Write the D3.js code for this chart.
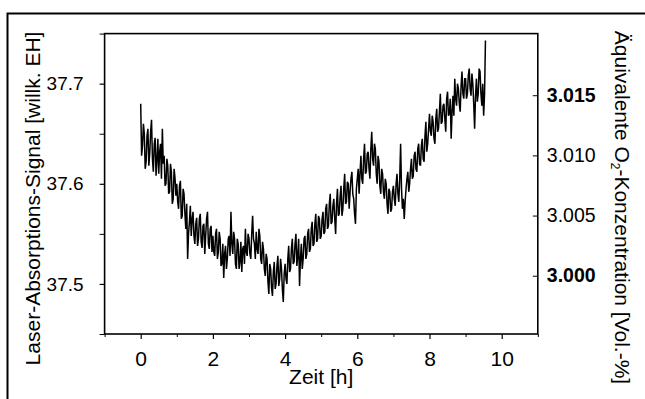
<!DOCTYPE html>
<html><head><meta charset="utf-8">
<script src="https://cdn.jsdelivr.net/npm/d3@7"></script>
<style>body{margin:0;background:#fff} svg{display:block;font-family:"Liberation Sans",Arial,sans-serif}</style>
</head><body>
<script>
// ---- data ----
const tStart = 0, tStep = 0.025;           // sample times in hours
const signal = [
 37.680,37.628,37.638,37.660,37.650,37.615,37.622,37.648,37.655,37.618,37.630,37.652,37.664,37.625,37.612,37.640,37.646,37.608,37.624,37.645,
 37.610,37.632,37.640,37.605,37.655,37.620,37.628,37.598,37.600,37.625,37.618,37.590,37.592,37.620,37.612,37.580,37.585,37.615,37.606,37.588,
 37.600,37.582,37.575,37.598,37.603,37.565,37.568,37.595,37.590,37.570,37.555,37.580,37.525,37.550,37.562,37.578,37.548,37.565,37.572,37.548,
 37.540,37.560,37.566,37.538,37.545,37.565,37.570,37.542,37.536,37.558,37.560,37.530,37.548,37.565,37.572,37.540,37.535,37.555,37.558,37.532,
 37.548,37.532,37.528,37.550,37.555,37.525,37.532,37.552,37.545,37.518,37.520,37.540,37.506,37.530,37.538,37.515,37.525,37.545,37.548,37.528,
 37.572,37.540,37.530,37.552,37.545,37.520,37.515,37.545,37.540,37.515,37.522,37.542,37.512,37.535,37.538,37.520,37.555,37.532,37.528,37.550,
 37.545,37.530,37.525,37.550,37.568,37.545,37.540,37.525,37.552,37.535,37.530,37.555,37.548,37.525,37.520,37.542,37.535,37.515,37.508,37.530,
 37.525,37.502,37.490,37.520,37.515,37.496,37.488,37.512,37.522,37.495,37.500,37.518,37.528,37.498,37.505,37.525,37.515,37.495,37.482,37.510,
 37.520,37.505,37.500,37.525,37.538,37.512,37.515,37.535,37.545,37.520,37.522,37.540,37.550,37.518,37.528,37.545,37.498,37.525,37.540,37.515,
 37.525,37.545,37.548,37.525,37.530,37.550,37.555,37.532,37.535,37.555,37.562,37.538,37.540,37.560,37.570,37.542,37.545,37.568,37.565,37.545,
 37.548,37.565,37.572,37.550,37.552,37.575,37.580,37.555,37.558,37.580,37.590,37.560,37.562,37.578,37.585,37.565,37.550,37.580,37.595,37.568,
 37.570,37.588,37.598,37.568,37.575,37.595,37.610,37.580,37.582,37.602,37.600,37.575,37.592,37.605,37.612,37.590,37.585,37.570,37.560,37.595,
 37.605,37.615,37.590,37.610,37.628,37.605,37.600,37.625,37.640,37.610,37.612,37.630,37.632,37.615,37.605,37.635,37.652,37.625,37.618,37.640,
 37.635,37.610,37.600,37.628,37.622,37.598,37.590,37.615,37.610,37.592,37.585,37.605,37.600,37.580,37.570,37.595,37.592,37.572,37.575,37.592,
 37.598,37.585,37.578,37.600,37.610,37.590,37.582,37.605,37.640,37.595,37.575,37.585,37.565,37.582,37.595,37.605,37.612,37.592,37.600,37.615,
 37.625,37.605,37.608,37.628,37.632,37.615,37.612,37.635,37.640,37.620,37.618,37.638,37.645,37.625,37.622,37.648,37.662,37.632,37.640,37.655,
 37.670,37.652,37.648,37.668,37.662,37.645,37.640,37.665,37.675,37.652,37.655,37.672,37.690,37.660,37.662,37.678,37.680,37.665,37.652,37.685,
 37.692,37.668,37.670,37.685,37.645,37.672,37.688,37.668,37.705,37.685,37.678,37.700,37.695,37.680,37.672,37.698,37.712,37.690,37.685,37.705,
 37.705,37.685,37.690,37.708,37.715,37.695,37.688,37.710,37.700,37.680,37.655,37.688,37.705,37.682,37.690,37.715,37.712,37.690,37.678,37.700,
 37.668,37.690,37.743
];
const xTicks = [0, 2, 4, 6, 8, 10];
const xMinorTicks = [-1, 1, 3, 5, 7, 9, 11];
const yLeftTicks = [37.5, 37.6, 37.7];
const yLeftMinor = [37.45, 37.55, 37.65, 37.75];
const yRightTicks = [3.000, 3.005, 3.010, 3.015];
const yRightBold = [3.000, 3.015];
const xTitle = "Zeit [h]";
const yLeftTitle = "Laser-Absorptions-Signal [willk. EH]";
const yRightTitleParts = ["Äquivalente O", "2", "-Konzentration [Vol.-%]"];

// ---- layout ----
const W = 645, H = 399;
const plot = {left: 104.6, right: 537.8, top: 33.6, bottom: 334};

const svg = d3.select("body").append("svg").attr("width", W).attr("height", H);

// outer border (extends off the picture at right and bottom)
svg.append("path").attr("d", `M7.5,${H+5} V13.5 H${W+5}`)
   .attr("fill", "none").attr("stroke", "#000").attr("stroke-width", 2);

const x = d3.scaleLinear().domain([-1, 11]).range([plot.left, plot.right]);
const y = d3.scaleLinear().domain([37.45, 37.75]).range([plot.bottom, plot.top]);
const yR = d3.scaleLinear().domain([2.99516, 3.02012]).range([plot.bottom, plot.top]);

// frame
svg.append("rect").attr("x", plot.left).attr("y", plot.top)
   .attr("width", plot.right - plot.left).attr("height", plot.bottom - plot.top)
   .attr("fill", "none").attr("stroke", "#000").attr("stroke-width", 1.6);

// bottom axis
const xAxis = d3.axisBottom(x).tickValues(xTicks).tickSize(5).tickPadding(12).tickFormat(d3.format("d"));
const gx = svg.append("g").attr("transform", `translate(0,${plot.bottom})`).call(xAxis);
gx.select(".domain").remove();
gx.selectAll("line").attr("stroke-width", 1.2);
gx.selectAll("text").attr("font-size", 21).attr("fill", "#000");
const gxm = svg.append("g").attr("transform", `translate(0,${plot.bottom})`)
   .call(d3.axisBottom(x).tickValues(xMinorTicks).tickSize(3).tickFormat(""));
gxm.select(".domain").remove();

// left axis
const gy = svg.append("g").attr("transform", `translate(${plot.left},0)`)
   .call(d3.axisLeft(y).tickValues(yLeftTicks).tickSize(5).tickPadding(16).tickFormat(d3.format(".1f")));
gy.select(".domain").remove();
gy.selectAll("line").attr("stroke-width", 1.2);
gy.selectAll("text").attr("font-size", 19).attr("fill", "#000");
const gym = svg.append("g").attr("transform", `translate(${plot.left},0)`)
   .call(d3.axisLeft(y).tickValues(yLeftMinor).tickSize(5).tickFormat(""));
gym.select(".domain").remove();

// right axis (ticks pointing inward)
const gr = svg.append("g").attr("transform", `translate(${plot.right},0)`)
   .call(d3.axisRight(yR).tickValues(yRightTicks).tickSizeInner(-5).tickSizeOuter(0).tickPadding(0).tickFormat(d3.format(".3f")));
gr.select(".domain").remove();
gr.selectAll("text").attr("x", 9).attr("font-size", 19.5).attr("fill", "#000")
   .attr("font-weight", d => yRightBold.includes(d) ? "bold" : "normal");

// titles
svg.append("text").attr("x", x(5)).attr("y", 384).attr("text-anchor", "middle")
   .attr("font-size", 21).text(xTitle);
svg.append("text").attr("transform", "translate(39.5,198.5) rotate(-90)")
   .attr("text-anchor", "middle").attr("font-size", 21).text(yLeftTitle);
const rt = svg.append("text").attr("transform", "translate(615,207.5) rotate(90)")
   .attr("text-anchor", "middle").attr("font-size", 21);
rt.append("tspan").text(yRightTitleParts[0]);
rt.append("tspan").attr("font-size", 12).attr("dy", 4).text(yRightTitleParts[1]);
rt.append("tspan").attr("dy", -4).text(yRightTitleParts[2]);

// data line
const line = d3.line().x((d, i) => x(tStart + i * tStep)).y(d => y(d));
svg.append("path").datum(signal).attr("d", line)
   .attr("fill", "none").attr("stroke", "#000").attr("stroke-width", 1.5).attr("stroke-linejoin", "miter").attr("stroke-miterlimit", 2);
</script>
</body></html>
